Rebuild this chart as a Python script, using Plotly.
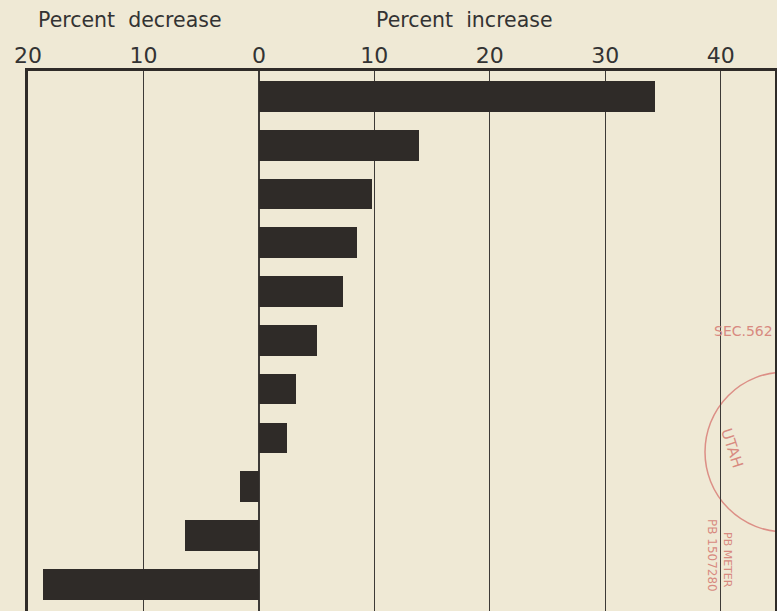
import plotly.graph_objects as go

# Data: percent change per item, top to bottom
items = ["1", "2", "3", "4", "5", "6", "7", "8", "9", "10", "11"]
pct_change = [34.3, 13.9, 9.8, 8.5, 7.3, 5.0, 3.2, 2.4, -1.6, -6.4, -18.7]

tick_vals = [-20, -10, 0, 10, 20, 30, 40]
tick_text = ["20", "10", "0", "10", "20", "30", "40"]

bg = "#efe9d5"
ink = "#2f2b28"
stamp = "#d88a80"
font_family = "DejaVu Sans, Noto Sans, sans-serif"

W, H = 777, 611
L, R, T, B = 28, 2, 71, 0
pw, ph = W - L - R, H - T - B


def px2paper(px, py):
    return (px - L) / pw, 1 - (py - T) / ph


fig = go.Figure()
fig.add_trace(go.Bar(
    x=pct_change,
    y=list(range(len(items))),
    orientation="h",
    marker=dict(color=ink, line=dict(width=0)),
    width=0.63,
    hoverinfo="x",
    showlegend=False,
))

fig.update_layout(
    width=W, height=H,
    margin=dict(l=L, r=R, t=T, b=B),
    paper_bgcolor=bg, plot_bgcolor=bg,
    font=dict(family=font_family, color="#333"),
    bargap=0,
    xaxis=dict(
        range=[-20, 44.7],
        side="top",
        tickvals=tick_vals, ticktext=tick_text,
        tickfont=dict(size=22, color="#333"),
        ticks="", ticklabelstandoff=-4,
        showgrid=True, gridcolor="#3d3a37", gridwidth=1.3,
        zeroline=True, zerolinecolor="#3d3a37", zerolinewidth=1.5,
        showline=True, linecolor="#2f2b28", linewidth=3, mirror=False,
        fixedrange=True,
    ),
    yaxis=dict(
        range=[10.55, -0.523],
        showticklabels=False, ticks="",
        showgrid=False, zeroline=False,
        showline=True, linecolor="#2f2b28", linewidth=3, mirror=True,
        fixedrange=True,
    ),
)

ann_specs = [
    ("Percent  decrease", 130, 20, 0, 20.5, "#333", "center"),
    ("Percent  increase", 464, 20, 0, 20.5, "#333", "center"),
    ("SEC.562", 775, 331, 0, 14, stamp, "right"),
    ("UTAH", 732, 448, 72, 15, stamp, "center"),
    ("PB METER", 728, 560, 90, 11, stamp, "center"),
    ("PB 1507280", 712, 555, 90, 12, stamp, "center"),
]
anns = []
for text, x, y, ang, size, col, xa in ann_specs:
    xp, yp = px2paper(x, y)
    anns.append(dict(text=text, x=xp, y=yp, xref="paper", yref="paper",
                     textangle=ang, showarrow=False, xanchor=xa, yanchor="middle",
                     font=dict(size=size, color=col)))
fig.update_layout(annotations=anns)

# faint red postmark circle
x0, y0 = px2paper(705, 532)
x1, y1 = px2paper(865, 372)
fig.add_shape(type="circle", xref="paper", yref="paper",
              x0=x0, x1=x1, y0=y0, y1=y1,
              line=dict(color="#dc8f86", width=1.5), layer="below")

fig.write_html(
    "out.html",
    config={"displayModeBar": False},
    post_script="document.body.style.margin='0';document.body.style.padding='0';",
)
